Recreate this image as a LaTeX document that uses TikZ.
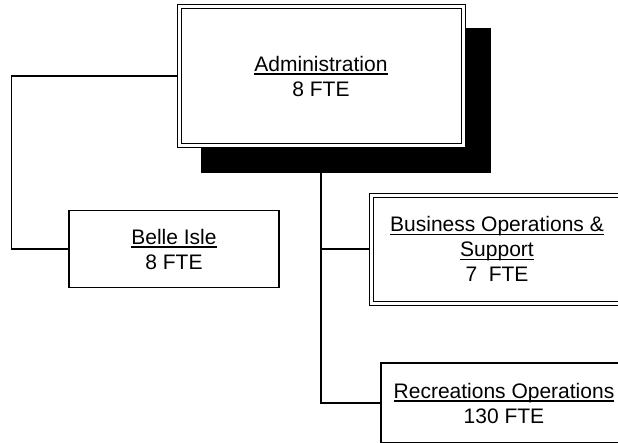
\documentclass[tikz,border=0pt]{standalone}
\usepackage{fontspec}
\setmainfont{Liberation Sans}
\newcommand\orgul[1]{\leavevmode\setbox0\hbox{#1}\rlap{\rule[-3.6pt]{\wd0}{1.3pt}}\box0}
\tikzset{
  orgbox/.style={draw, fill=white, line width=1.3pt, align=center, inner sep=0pt,
                 font=\fontsize{21}{25}\selectfont},
  dblbox/.style={orgbox, line width=1pt, double, double distance=3pt, outer sep=2.5pt},
  link/.style={draw, line width=1.3pt},
}

\begin{document}
\begin{tikzpicture}[x=1pt, y=-1pt]
    \clip (0,0) rectangle (618,442);
    % drop shadow behind the top box
    \fill (201,28) rectangle (491,173);
    \node[dblbox, minimum width=284pt, minimum height=139pt] (admin) at (321,76) {\orgul{Administration}\\8 FTE};
    \node[orgbox, minimum width=210pt, minimum height=77pt] (belle) at (174,249) {\orgul{Belle Isle}\\8 FTE};
    \node[dblbox, minimum width=252pt, minimum height=108pt] (busops) at (497,249) {\orgul{Business Operations \&}\\\orgul{Support}\\7~~FTE};
    \node[orgbox, minimum width=246pt, minimum height=80pt] (recops) at (504,403) {\orgul{Recreations Operations}\\130 FTE};
    \coordinate (trunk) at (321,173);
    \draw[link] (admin.west) -- ++(-165,0) |- (belle.west);
    \draw[link] (trunk) |- (busops.west);
    \draw[link] (trunk) |- (recops.west);
\end{tikzpicture}
\end{document}
